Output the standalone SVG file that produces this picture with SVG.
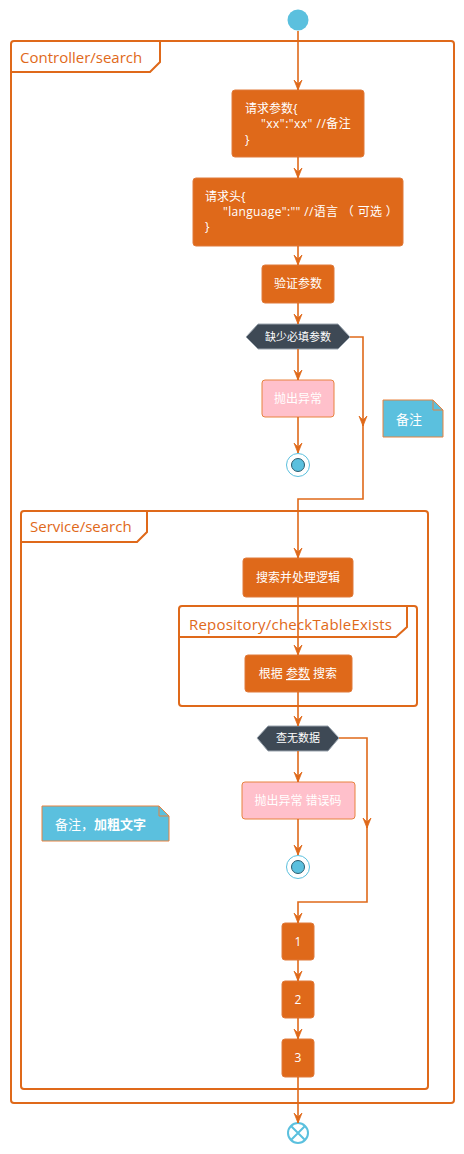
<svg xmlns="http://www.w3.org/2000/svg" width="464" height="1154" viewBox="0 0 464 1154">
<style>
text{font-family:"Open Sans","Noto Sans CJK SC",sans-serif;}
.frame{fill:#fff;stroke:#DF691A;stroke-width:2;}
.tab{fill:none;stroke:#DF691A;stroke-width:2;}
.flabel{fill:#DF691A;font-size:15px;}
.act{fill:#DF691A;stroke:#E07A3A;stroke-width:1;}
.pink{fill:#FFC0CB;stroke:#E8823F;stroke-width:1;}
.hex{fill:#3E4955;stroke:#9AA4AE;stroke-width:1;}
.t{fill:#fff;font-size:12px;}
.tc{fill:#fff;font-size:12px;text-anchor:middle;}
.note{fill:#5BC0DE;stroke:#E8823F;stroke-width:1;}
.edge{fill:none;stroke:#DF691A;stroke-width:1.6;}
</style>
<defs>
<marker id="arr" viewBox="0 0 10 10" markerWidth="10" markerHeight="10" refX="10" refY="5" orient="auto" markerUnits="userSpaceOnUse">
<path d="M0,1 L10,5 L0,9 L4,5 Z" fill="#DF691A" stroke="#DF691A" stroke-width="0.8"/>
</marker>
</defs>

<g id="controller-frame">
<rect class="frame" x="11" y="41" width="443" height="1062" rx="3"/>
<path class="tab" d="M11,72 H150 L160,62 V41"/>
<text class="flabel" x="20" y="63">Controller/search</text>
</g>

<g id="service-frame">
<rect class="frame" x="21" y="511" width="407" height="578" rx="3"/>
<path class="tab" d="M21,542 H137 L147,532 V511"/>
<text class="flabel" x="30" y="532">Service/search</text>
</g>

<g id="repository-frame">
<rect class="frame" x="179" y="606" width="238" height="100" rx="3"/>
<path class="tab" d="M179,637 H396 L407,627 V606"/>
<text class="flabel" x="189" y="630" letter-spacing="0.2">Repository/checkTableExists</text>
</g>

<g id="start">
<circle cx="298" cy="20" r="10.5" fill="#5BC0DE"/>
</g>

<g id="req-params">
<rect class="act" x="232" y="90" width="132" height="67" rx="3"/>
<text class="t" x="245" y="113">请求参数{</text>
<text class="t" x="261" y="128" letter-spacing="0.5">"xx":"xx" //备注</text>
<text class="t" x="245" y="144">}</text>
</g>

<g id="req-header">
<rect class="act" x="193" y="178" width="210" height="68" rx="3"/>
<text class="t" x="205" y="201">请求头{</text>
<text class="t" x="223" y="216" letter-spacing="0.35">"language":"" //语言 （ 可选 ）</text>
<text class="t" x="205" y="231">}</text>
</g>

<g id="validate">
<rect class="act" x="262" y="265" width="72" height="38" rx="3"/>
<text class="tc" x="298" y="288">验证参数</text>
</g>

<g id="missing-params">
<polygon class="hex" points="246,337 258,324 338,324 350,337 338,349 258,349"/>
<text class="tc" x="298" y="341" style="font-size:11px">缺少必填参数</text>
</g>

<g id="throw1">
<rect class="pink" x="262" y="380" width="72" height="37" rx="3"/>
<text class="tc" x="298" y="403">抛出异常</text>
</g>

<g id="end1">
<circle cx="298" cy="465" r="11.5" fill="#fff" stroke="#5BC0DE" stroke-width="1"/>
<circle cx="298" cy="465" r="6.5" fill="#5BC0DE" stroke="#2B5C6E" stroke-width="1"/>
</g>

<g id="note1">
<path class="note" d="M383,400 H433 L443,410 V437 H383 Z"/>
<path d="M433,400 V410 H443" fill="none" stroke="#E8823F" stroke-width="1"/>
<text class="t" x="396" y="424" style="font-size:13px">备注</text>
</g>

<g id="search-logic">
<rect class="act" x="243" y="558" width="110" height="39" rx="3"/>
<text class="tc" x="298" y="582">搜索并处理逻辑</text>
</g>

<g id="search-by-params">
<rect class="act" x="245" y="655" width="107" height="37" rx="3"/>
<text class="tc" x="298" y="678">根据 <tspan text-decoration="underline">参数</tspan> 搜索</text>
</g>

<g id="no-data">
<polygon class="hex" points="257,738 268,726 328,726 339,738 328,751 268,751"/>
<text class="tc" x="298" y="742" style="font-size:11px">查无数据</text>
</g>

<g id="throw2">
<rect class="pink" x="242" y="782" width="113" height="37" rx="3"/>
<text class="tc" x="298" y="805">抛出异常 错误码</text>
</g>

<g id="end2">
<circle cx="298" cy="867" r="11.5" fill="#fff" stroke="#5BC0DE" stroke-width="1"/>
<circle cx="298" cy="867" r="6.5" fill="#5BC0DE" stroke="#2B5C6E" stroke-width="1"/>
</g>

<g id="note2">
<path class="note" d="M42,806 H159 L169,816 V841 H42 Z"/>
<path d="M159,806 V816 H169" fill="none" stroke="#E8823F" stroke-width="1"/>
<text class="t" x="55" y="829" style="font-size:13px">备注，<tspan font-weight="bold">加粗文字</tspan></text>
</g>

<g id="step1">
<rect class="act" x="282" y="923" width="32" height="37" rx="3"/>
<text class="tc" x="298" y="946">1</text>
</g>
<g id="step2">
<rect class="act" x="282" y="981" width="32" height="37" rx="3"/>
<text class="tc" x="298" y="1004">2</text>
</g>
<g id="step3">
<rect class="act" x="282" y="1039" width="32" height="38" rx="3"/>
<text class="tc" x="298" y="1062">3</text>
</g>

<g id="end-final">
<circle cx="298" cy="1133" r="10" fill="#fff" stroke="#5BC0DE" stroke-width="2"/>
<path d="M291,1126 L305,1140 M305,1126 L291,1140" stroke="#5BC0DE" stroke-width="2"/>
</g>

<g id="connectors">
<path class="edge" d="M298,31 V90" marker-end="url(#arr)"/>
<path class="edge" d="M298,157 V178" marker-end="url(#arr)"/>
<path class="edge" d="M298,246 V265" marker-end="url(#arr)"/>
<path class="edge" d="M298,303 V324" marker-end="url(#arr)"/>
<path class="edge" d="M298,349 V380" marker-end="url(#arr)"/>
<path class="edge" d="M298,417 V453" marker-end="url(#arr)"/>
<path class="edge" d="M350,337 H363 V426" marker-end="url(#arr)"/>
<path class="edge" d="M363,424 V499 H298 V558" marker-end="url(#arr)"/>
<path class="edge" d="M298,597 V655" marker-end="url(#arr)"/>
<path class="edge" d="M298,692 V726" marker-end="url(#arr)"/>
<path class="edge" d="M298,751 V782" marker-end="url(#arr)"/>
<path class="edge" d="M298,819 V855" marker-end="url(#arr)"/>
<path class="edge" d="M339,738 H367 V828" marker-end="url(#arr)"/>
<path class="edge" d="M367,826 V902 H298 V923" marker-end="url(#arr)"/>
<path class="edge" d="M298,960 V981" marker-end="url(#arr)"/>
<path class="edge" d="M298,1018 V1039" marker-end="url(#arr)"/>
<path class="edge" d="M298,1077 V1123" marker-end="url(#arr)"/>
</g>
</svg>
